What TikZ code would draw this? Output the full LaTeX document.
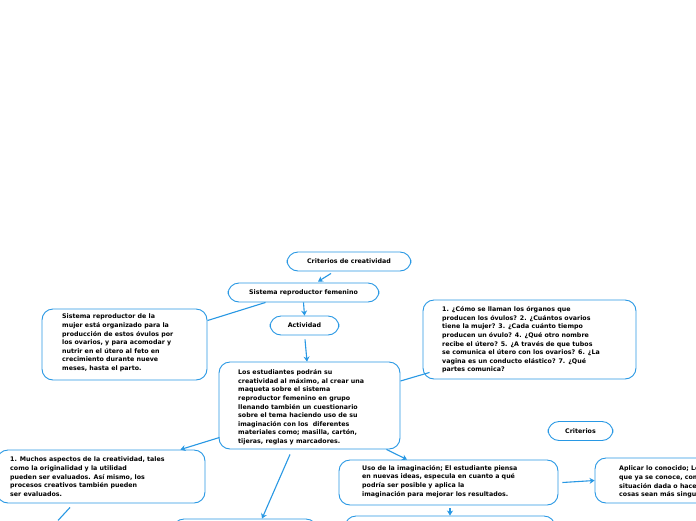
\documentclass[tikz,border=0pt]{standalone}
\usepackage{fontspec}
\setmainfont{DejaVu Sans}
\usetikzlibrary{arrows.meta}
\definecolor{lblue}{RGB}{40,152,228}
\tikzset{
  x=1pt, y=-1pt,
  box/.style={draw=lblue, line width=0.9pt, rounded corners=11pt, inner sep=0pt, font=\bfseries\fontsize{6.3}{8.6}\selectfont},
  txt/.style={anchor=north west, inner sep=0pt, align=left, font=\bfseries\fontsize{6.3}{8.6}\selectfont},
  conn/.style={draw=lblue, line width=1.1pt, -{Stealth[length=5pt,width=6pt]}},
  plain/.style={draw=lblue, line width=1.1pt}
}
\begin{document}
\begin{tikzpicture}
\useasboundingbox (0,0) rectangle (696,520);
\clip (0,0) rectangle (696,520);
\fill[white] (0,0) rectangle (696,520);
% boxes
\node[box, minimum width=124, minimum height=19] (crit) at (349,261.5) {Criterios de creatividad};
\node[box, minimum width=151, minimum height=19] (sist) at (303.5,292.5) {Sistema reproductor femenino};
\node[box, minimum width=69, minimum height=19] (act) at (304.5,325.5) {Actividad};
\node[box, minimum width=165, minimum height=71] (left) at (124.5,344.5) {};
\node[box, minimum width=213, minimum height=79] (quest) at (529.5,339.5) {};
\node[box, minimum width=181, minimum height=87] (cent) at (309.5,405.5) {};
\node[box, minimum width=65, minimum height=19] (crit2) at (580.5,431) {Criterios};
\node[box, minimum width=208, minimum height=53] (bl) at (101,476.5) {};
\node[box, minimum width=219, minimum height=45] (uso) at (448.5,482.5) {};
\node[box, minimum width=210, minimum height=45] (apl) at (700,480.5) {};
\node[box, minimum width=144, minimum height=40] (bot1) at (245,539) {};
\node[box, minimum width=210, minimum height=40] (bot2) at (450,536) {};
% texts
\node[txt] (lefttxt) at (62,314) {Sistema reproductor de la\\mujer está organizado para la\\producción de estos óvulos por\\los ovarios, y para acomodar y\\nutrir en el útero al feto en\\crecimiento durante nueve\\meses, hasta el parto.};
\node[txt] (questtxt) at (442,306.5) {1. ¿Cómo se llaman los órganos que\\producen los óvulos? 2. ¿Cuántos ovarios\\tiene la mujer? 3. ¿Cada cuánto tiempo\\producen un óvulo? 4. ¿Qué otro nombre\\recibe el útero? 5. ¿A través de que tubos\\se comunica el útero con los ovarios? 6. ¿La\\vagina es un conducto elástico? 7. ¿Qué\\partes comunica?};
\node[txt] (centtxt) at (238,369.5) {Los estudiantes podrán su\\creatividad al máximo, al crear una\\maqueta sobre el sistema\\reproductor femenino en grupo\\llenando también un cuestionario\\sobre el tema haciendo uso de su\\imaginación con los\ \ diferentes\\materiales como; masilla, cartón,\\tijeras, reglas y marcadores.};
\node[txt] (bltxt) at (10,457) {1. Muchos aspectos de la creatividad, tales\\como la originalidad y la utilidad\\pueden ser evaluados. Así mismo, los\\procesos creativos también pueden\\ser evaluados.};
\node[txt] (usotxt) at (362,465) {Uso de la imaginación; El estudiante piensa\\en nuevas ideas, especula en cuanto a qué\\podría ser posible y aplica la\\imaginación para mejorar los resultados.};
\node[txt] (apltxt) at (619,466) {Aplicar lo conocido; Lo\\que ya se conoce, como\\situación dada o hacer\\cosas sean más singulares.};
% connectors
\draw[conn] ([shift={(-18,2)}]crit.south) -- ([shift={(14.5,-1)}]sist.north);
\draw[conn] (sist.south) -- (act.north);
\draw[plain] ([shift={(-38,0)}]sist.south) -- ([shift={(0,12)}]left.north east);
\draw[conn] ([shift={(0.5,4)}]act.south) -- ([shift={(-2.5,0)}]cent.north);
\draw[plain] ([shift={(0,-24.5)}]cent.east) -- ([shift={(7,-7)}]quest.south west);
\draw[conn] ([shift={(1,-12)}]cent.south west) -- ([shift={(-25,0)}]bl.north east);
\draw[conn] ([shift={(-19.5,5)}]cent.south) -- ([shift={(17,0)}]bot1.north);
\draw[conn] ([shift={(-14,0)}]cent.south east) -- ([shift={(-41.5,0)}]uso.north);
\draw[conn] ([shift={(4,0)}]uso.east) -- (apl.west);
\draw[conn] ([shift={(1.5,3)}]uso.south) -- (bot2.north);
\draw[plain] ([shift={(-31,4)}]bl.south) -- ([shift={(-43,17)}]bl.south);
\end{tikzpicture}
\end{document}
